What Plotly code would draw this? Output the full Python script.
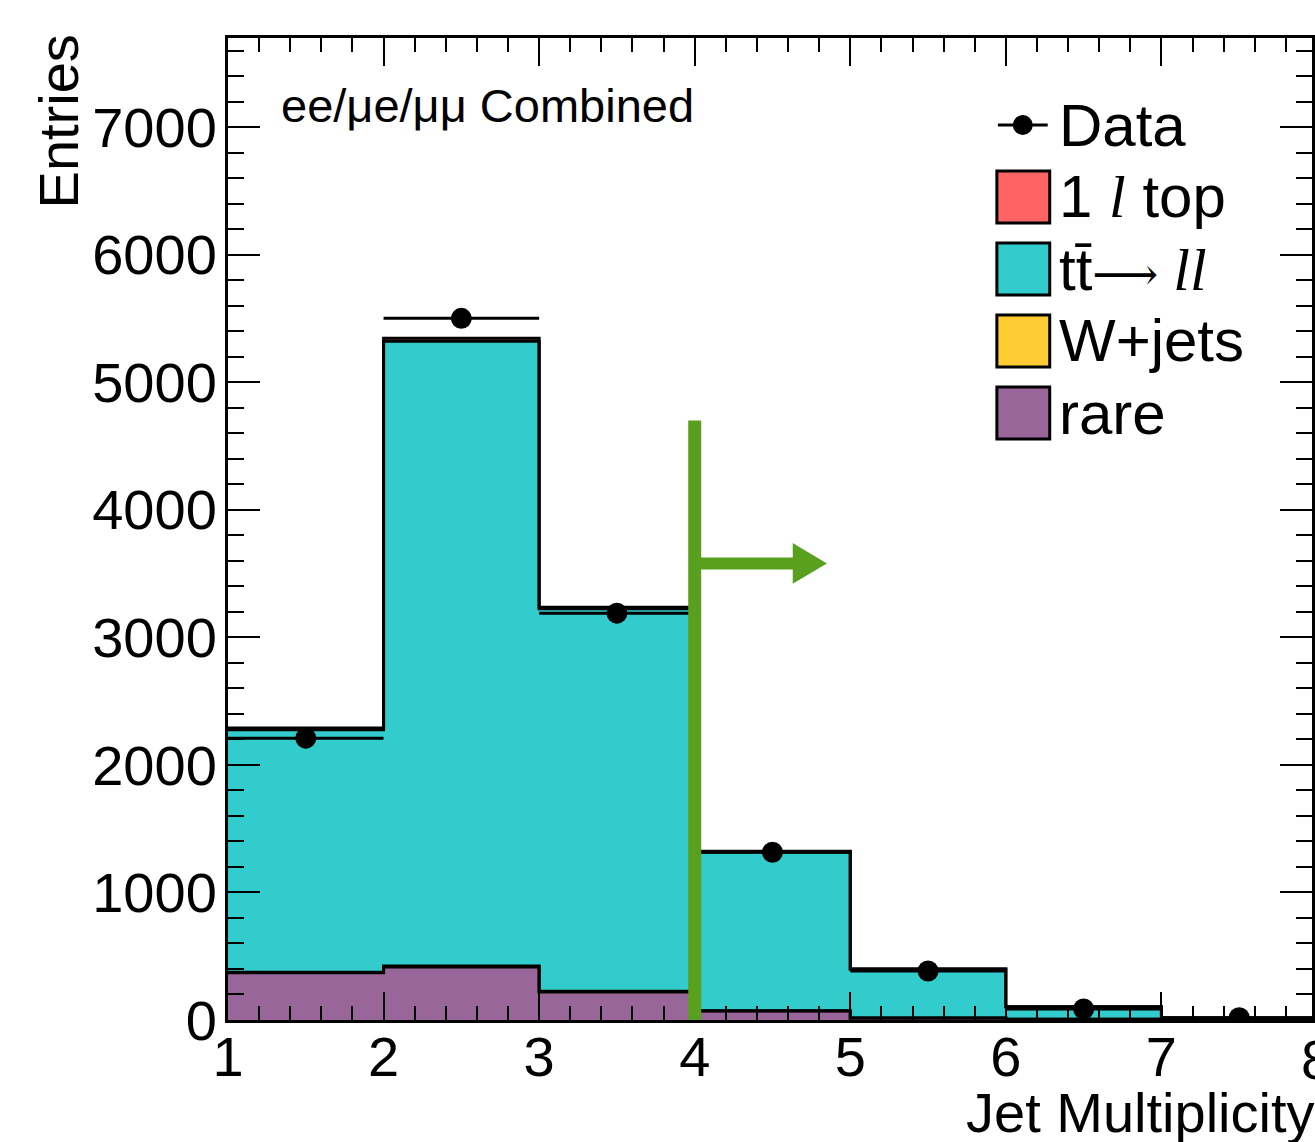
import numpy as np
import plotly.graph_objects as go

# ---- data: jet multiplicity bins (edges 1..8) ----
bin_edges = [1, 2, 3, 4, 5, 6, 7, 8]
data_counts = [2210, 5502, 3190, 1315, 384, 86, 18]

rare = [370, 415, 220, 70, 15, 5, 1]
wjets = [5, 8, 5, 2, 1, 0, 0]
ttbar_ll = [1900, 4900, 3000, 1245, 383, 98, 14]
one_lep_top = [15, 22, 12, 7, 1, 0, 0]

x_tick_labels = ["1", "2", "3", "4", "5", "6", "7", "8"]
y_tick_values = [0, 1000, 2000, 3000, 4000, 5000, 6000, 7000]

# selection cut: N_jets >= 4
cut_value = 4
cut_line_top = 4700
cut_arrow_y = 3580
cut_arrow_tip = 4.85

SERIF = "'Liberation Serif'"
ARROW = "<span style=\"font-family:'DejaVu Serif';font-size:46px\">\u27f6</span>"
legend_labels = [
    "Data",
    f"1 <span style=\"font-family:{SERIF}\"><i>l</i></span> top",
    f"tt\u0304{ARROW}<span style=\"font-family:{SERIF}\"> <i>ll</i></span>",
    "W+jets",
    "rare",
]

# ---- styling ----
FONT = "Liberation Sans, Arial, Helvetica, sans-serif"
C_RARE = "#996699"
C_WJ = "#FFCC33"
C_TT = "#33CCCC"
C_1L = "#FF6363"
C_CUT = "#58A01E"
legend_colors = [C_1L, C_TT, C_WJ, C_RARE]

W_FIG, H_FIG = 1315, 1142
L, T = 228, 38
PLOT_W, PLOT_H = W_FIG - L, 982
PX_PER_UNIT = 156.0
x_max = bin_edges[0] + PLOT_W / PX_PER_UNIT


def px_x(p):
    return (p - L) / PLOT_W


def px_y(p):
    return (T + PLOT_H - p) / PLOT_H


edges = np.array(bin_edges, dtype=float)
centers = 0.5 * (edges[:-1] + edges[1:])
widths = np.diff(edges)

fig = go.Figure()

# stacked filled histograms (bottom to top)
stack = [("rare", rare, C_RARE), ("W+jets", wjets, C_WJ),
         ("ttbar", ttbar_ll, C_TT), ("1l top", one_lep_top, C_1L)]
for name, vals, col in stack:
    fig.add_trace(go.Bar(
        x=centers, y=vals, width=widths, name=name,
        marker=dict(color=col, line=dict(width=0)),
        showlegend=False, hoverinfo="skip",
    ))

# step outlines at each cumulative level
cum = np.zeros(len(centers))
for name, vals, col in stack:
    cum = cum + np.array(vals, dtype=float)
    fig.add_trace(go.Scatter(
        x=edges, y=np.append(cum, cum[-1]), mode="lines",
        line=dict(color="black", width=3, shape="hv"),
        showlegend=False, hoverinfo="skip",
    ))

# data points with bin-width horizontal bars
fig.add_trace(go.Scatter(
    x=centers, y=data_counts, mode="markers",
    marker=dict(color="black", size=21),
    error_x=dict(type="data", array=widths / 2, color="black",
                 thickness=3, width=0),
    showlegend=False, name="Data",
))

shapes = []
# cut line and arrow
shapes.append(dict(type="line", xref="x", yref="y", x0=cut_value, x1=cut_value,
                   y0=0, y1=cut_line_top, line=dict(color=C_CUT, width=13),
                   layer="above"))
shapes.append(dict(type="line", xref="x", yref="y", x0=cut_value, x1=cut_arrow_tip - 0.18,
                   y0=cut_arrow_y, y1=cut_arrow_y, line=dict(color=C_CUT, width=12),
                   layer="above"))
head_base = cut_arrow_tip - 0.22
shapes.append(dict(type="path", xref="x", yref="y",
                   path=f"M {head_base},{cut_arrow_y - 160} L {cut_arrow_tip},{cut_arrow_y} "
                        f"L {head_base},{cut_arrow_y + 160} Z",
                   fillcolor=C_CUT, line=dict(width=0), layer="above"))

annotations = []
# legend
row0, row_step = 125, 72
box_l, box_r, box_h = 999, 1052, 52
text_x = 1059
# data entry: line + dot
shapes.append(dict(type="line", xref="paper", yref="paper",
                   x0=px_x(1000), x1=px_x(1050), y0=px_y(row0), y1=px_y(row0),
                   line=dict(color="black", width=3)))
shapes.append(dict(type="circle", xref="paper", yref="paper",
                   x0=px_x(1015), x1=px_x(1035), y0=px_y(row0 + 10), y1=px_y(row0 - 10),
                   fillcolor="black", line=dict(color="black", width=0)))
for i, lab in enumerate(legend_labels):
    yc = row0 + row_step * i
    if i > 0:
        shapes.append(dict(type="rect", xref="paper", yref="paper",
                           x0=px_x(box_l), x1=px_x(box_r),
                           y0=px_y(yc + box_h / 2), y1=px_y(yc - box_h / 2),
                           fillcolor=legend_colors[i - 1],
                           line=dict(color="black", width=3)))
    annotations.append(dict(xref="paper", yref="paper", x=px_x(text_x), y=px_y(yc),
                            xanchor="left", yanchor="middle", text=lab, showarrow=False,
                            font=dict(family=FONT, size=60, color="black")))

# channel label
annotations.append(dict(xref="paper", yref="paper", x=px_x(279), y=px_y(106),
                        xanchor="left", yanchor="middle", showarrow=False,
                        text="ee/\u03bce/\u03bc\u03bc Combined",
                        font=dict(family=FONT, size=47, color="black")))
# axis titles
annotations.append(dict(xref="paper", yref="paper", x=px_x(1320), y=px_y(1112),
                        xanchor="right", yanchor="middle", showarrow=False,
                        text="Jet Multiplicity",
                        font=dict(family=FONT, size=56, color="black")))
annotations.append(dict(xref="paper", yref="paper", x=px_x(58), y=px_y(32),
                        xanchor="center", yanchor="top", showarrow=False,
                        text="Entries", textangle=-90,
                        font=dict(family=FONT, size=56, color="black")))
# last x tick label sits at the frame edge
annotations.append(dict(xref="paper", yref="paper",
                        x=(bin_edges[-1] - bin_edges[0]) / (x_max - bin_edges[0]),
                        y=px_y(1059), xanchor="center", yanchor="middle", showarrow=False,
                        text=x_tick_labels[-1],
                        font=dict(family=FONT, size=56, color="black")))

fig.update_layout(
    width=W_FIG, height=H_FIG,
    margin=dict(l=L, r=0, t=T, b=H_FIG - T - PLOT_H),
    barmode="stack", bargap=0,
    plot_bgcolor="white", paper_bgcolor="white",
    showlegend=False,
    shapes=shapes, annotations=annotations,
    font=dict(family=FONT, size=56, color="black"),
)
fig.update_xaxes(
    range=[bin_edges[0], x_max],
    tickvals=bin_edges[:-1], ticktext=x_tick_labels[:-1],
    ticks="inside", ticklen=28, tickwidth=2, tickcolor="black",
    ticklabelstandoff=-14,
    minor=dict(dtick=0.2, ticks="inside", ticklen=14, tickwidth=2, tickcolor="black"),
    showline=True, linecolor="black", linewidth=3, mirror="allticks",
    showgrid=False, zeroline=False,
    tickfont=dict(family=FONT, size=56, color="black"),
)
fig.update_yaxes(
    range=[0, 7700],
    tickvals=y_tick_values,
    ticks="inside", ticklen=32, tickwidth=2, tickcolor="black",
    ticklabelstandoff=-3,
    minor=dict(dtick=200, ticks="inside", ticklen=16, tickwidth=2, tickcolor="black"),
    showline=True, linecolor="black", linewidth=3, mirror="allticks",
    showgrid=False, zeroline=False,
    tickfont=dict(family=FONT, size=56, color="black"),
)

fig.write_html("out.html")
